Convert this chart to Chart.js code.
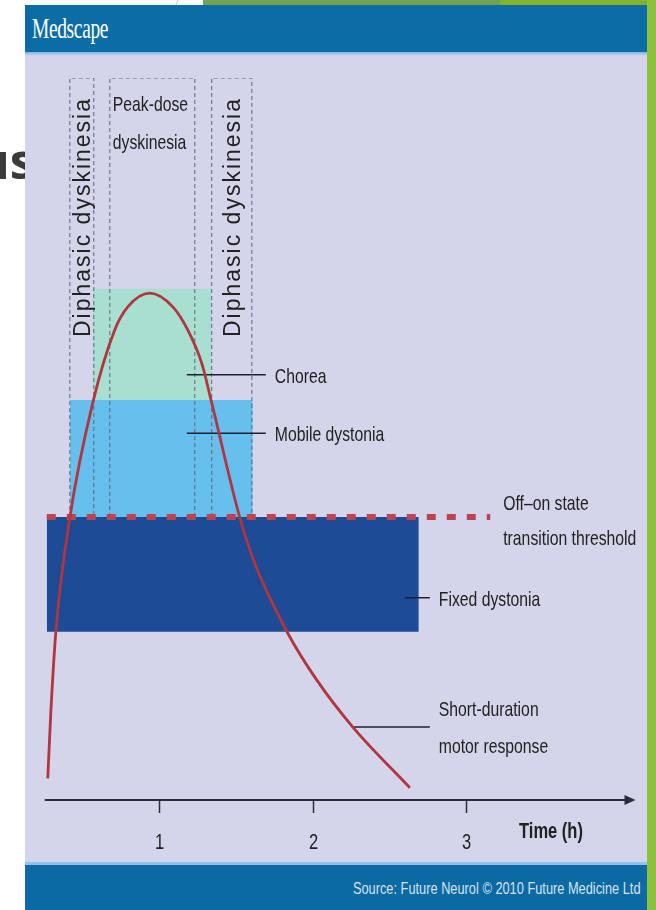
<!DOCTYPE html>
<html><head><meta charset="utf-8">
<script src="https://cdn.jsdelivr.net/npm/chart.js@4.4.1/dist/chart.umd.min.js"></script>
<style>
html,body{margin:0;padding:0;}
body{width:656px;height:910px;position:relative;overflow:hidden;background:#fff;font-family:'Liberation Sans',Arial,sans-serif;}
#greenTop1{position:absolute;left:203px;top:0;width:300px;height:6px;background:#72a055;}
#greenTop2{position:absolute;left:500px;top:0;width:156px;height:6px;background:#84b22e;}
#greenRight{position:absolute;left:647px;top:0;width:9px;height:910px;background:#8dc13d;}
#arc{position:absolute;left:176px;top:-14px;width:60px;height:40px;border-left:1.5px solid #c9c9c9;border-radius:50%;}
#slideTitle{position:absolute;left:-23px;top:126px;font:bold 50px 'Open Sans',sans-serif;color:#3a3a3a;}
#fig{position:absolute;left:25px;top:5px;width:622px;height:905px;background:#d4d5ea;overflow:hidden;}
#hdr{position:absolute;left:0;top:0;width:622px;height:47px;background:#0c6da6;}
#hdrLine{position:absolute;left:0;top:47px;width:622px;height:4px;background:linear-gradient(#7fb4dc,#cfd8ee);}
#logo{position:absolute;left:7px;top:7px;font:29px 'Liberation Serif',serif;color:#fff;transform:scaleX(0.67);transform-origin:0 0;white-space:nowrap;letter-spacing:-0.5px;}
#chartBox{position:absolute;left:0;top:50px;width:622px;height:805px;}
#ftrLine{position:absolute;left:0;top:857px;width:622px;height:3px;background:#8cc3e8;}
#ftr{position:absolute;left:0;top:860px;width:622px;height:45px;background:#0b6aa3;}
#src{position:absolute;right:6px;top:15px;font:16px 'Liberation Sans',Arial,sans-serif;color:#d6e3ef;transform:scaleX(0.8);transform-origin:100% 0;white-space:nowrap;}
</style></head>
<body>
<div id="arc"></div>
<div id="greenTop1"></div><div id="greenTop2"></div>
<div id="slideTitle">us</div>
<div id="fig">
  <div id="hdr"><div id="logo">Medscape</div></div>
  <div id="hdrLine"></div>
  <div id="chartBox"><canvas id="c" width="622" height="805"></canvas></div>
  <div id="ftrLine"></div>
  <div id="ftr"><div id="src">Source: Future Neurol © 2010 Future Medicine Ltd</div></div>
</div>
<div id="greenRight"></div>
<script>
// ---- data (time in hours, level in arbitrary response units 0-100) ----
const timeTicks = [1, 2, 3];
const axisTitle = 'Time (h)';

const curveTime  = [0.2765, 0.296, 0.329, 0.42, 0.569, 0.712, 0.797, 0.94, 1.09, 1.187, 1.278, 1.343, 1.526, 1.623, 1.838, 2.027, 2.261, 2.632];
const curveLevel = [3.0,    12.0,  23.3,  39.1, 55.0,  65.1,  68.3,  70.2, 68.3, 65.1,  60.5,  55.0,  39.1,  32.8,  23.1,  16.6,  10.1,  1.7];

const zoneNames  = ['Chorea', 'Mobile dystonia', 'Fixed dystonia'];
const zoneStart  = [0.569, 0.42, 0.27];
const zoneEnd    = [1.343, 1.61, 2.69];
const zoneTop    = [70.8, 55.4, 39.2];
const zoneBottom = [55.4, 39.2, 23.3];

const thresholdLabel = ['Off–on state', 'transition threshold'];
const thresholdLevel = 39.2;
const thresholdStart = 0.27;
const thresholdEnd   = 3.155;

const windowNames = [['Diphasic dyskinesia'], ['Peak-dose', 'dyskinesia'], ['Diphasic dyskinesia']];
const windowStart = [0.42, 0.68, 1.343];
const windowEnd   = [0.576, 1.233, 1.604];
const windowTop   = 100;

const curveLabel = ['Short-duration', 'motor response'];

// callout lines: start time, end time, level
const calloutX0    = [1.181, 1.181, 2.599, 2.261];
const calloutX1    = [1.695, 1.695, 2.762, 2.762];
const calloutLevel = [58.9, 50.8, 28.0, 10.1];

// ---- styles / layout ----
const zoneColors = ['#a8dfd1', '#66bfec', '#1d4b95'];
const TXT = '#222222';
const NARROW = 0.75;

function narrowText(ctx, text, x, y, size, align, weight) {
  ctx.save();
  ctx.translate(x, y);
  ctx.scale(NARROW, 1);
  ctx.font = (weight || 'normal') + ' ' + size + "px 'Liberation Sans', Arial, sans-serif";
  ctx.fillStyle = TXT;
  ctx.textAlign = align || 'left';
  ctx.textBaseline = 'middle';
  ctx.fillText(text, 0, 0);
  ctx.restore();
}

const datasets = [];
datasets.push({
  label: curveLabel.join(' '),
  data: curveTime.map((t, i) => ({x: t, y: curveLevel[i]})),
  borderColor: '#b0363f', borderWidth: 2.8, pointRadius: 0,
  cubicInterpolationMode: 'monotone', fill: false, order: 0
});
calloutLevel.forEach((lv, i) => datasets.push({
  label: 'callout' + i,
  data: [{x: calloutX0[i], y: lv}, {x: calloutX1[i], y: lv}],
  borderColor: '#1e2030', borderWidth: 1.5, pointRadius: 0, fill: false, order: 1
}));
datasets.push({
  label: thresholdLabel.join(' '),
  data: [{x: thresholdStart, y: thresholdLevel}, {x: thresholdEnd, y: thresholdLevel}],
  borderColor: '#b8454f', borderWidth: 6, borderDash: [9, 11], borderCapStyle: 'butt',
  pointRadius: 0, fill: false, order: 2
});
windowNames.forEach((n, i) => datasets.push({
  label: n.join(' '),
  data: [{x: windowStart[i], y: thresholdLevel}, {x: windowStart[i], y: windowTop},
         {x: windowEnd[i], y: windowTop}, {x: windowEnd[i], y: thresholdLevel}],
  borderColor: '#5f6475', borderWidth: 1, borderDash: [4, 3], pointRadius: 0,
  tension: 0, fill: false, order: 3
}));
zoneNames.forEach((n, i) => datasets.push({
  label: n,
  data: [{x: zoneStart[i], y: zoneTop[i]}, {x: zoneEnd[i], y: zoneTop[i]}],
  borderColor: 'rgba(0,0,0,0)', borderWidth: 0, backgroundColor: zoneColors[i],
  pointRadius: 0, fill: {value: zoneBottom[i]}, order: 4 + i
}));

const overlay = {
  id: 'overlay',
  afterDatasetsDraw(chart) {
    const ctx = chart.ctx, xs = chart.scales.x, ys = chart.scales.y, ca = chart.chartArea;
    const y0 = ys.getPixelForValue(0);
    // axis line with arrow
    ctx.save();
    ctx.strokeStyle = '#2b2d3a'; ctx.fillStyle = '#2b2d3a'; ctx.lineWidth = 2;
    ctx.beginPath(); ctx.moveTo(ca.left + 1, y0); ctx.lineTo(ca.right - 8, y0); ctx.stroke();
    ctx.beginPath(); ctx.moveTo(ca.right, y0); ctx.lineTo(ca.right - 11, y0 - 5); ctx.lineTo(ca.right - 11, y0 + 5); ctx.closePath(); ctx.fill();
    ctx.lineWidth = 1.5;
    timeTicks.forEach(t => {
      const px = Math.round(xs.getPixelForValue(t)) + 0.5;
      ctx.beginPath(); ctx.moveTo(px, y0); ctx.lineTo(px, y0 + 13); ctx.stroke();
      narrowText(ctx, String(t), px, y0 + 43, 22, 'center');
    });
    ctx.restore();
    narrowText(ctx, axisTitle, xs.getPixelForValue(3.55), y0 + 32, 22, 'center', 'bold');

    // window labels
    windowNames.forEach((n, i) => {
      const l = xs.getPixelForValue(windowStart[i]), r = xs.getPixelForValue(windowEnd[i]);
      if (n.length === 1) {
        ctx.save();
        ctx.translate((l + r) / 2 + 1.5, ca.top + 139);
        ctx.rotate(-Math.PI / 2);
        ctx.font = "23px 'Liberation Sans', Arial, sans-serif";
        ctx.letterSpacing = '2px';
        ctx.fillStyle = TXT; ctx.textAlign = 'center'; ctx.textBaseline = 'middle';
        ctx.fillText(n[0], 0, 0);
        ctx.restore();
      } else {
        n.forEach((s, k) => narrowText(ctx, s, l + 3, ca.top + 27 + k * 38, 21));
      }
    });

    // zone / curve labels at callout ends
    const labelSets = [[zoneNames[0]], [zoneNames[1]], [zoneNames[2]], curveLabel];
    labelSets.forEach((lines, i) => {
      const x = xs.getPixelForValue(calloutX1[i]) + 9;
      const yc = ys.getPixelForValue(calloutLevel[i]);
      const h = 37;
      lines.forEach((s, k) => narrowText(ctx, s, x, yc + (k - (lines.length - 1) / 2) * h + 2, 21));
    });
    // threshold label
    const tx = xs.getPixelForValue(thresholdEnd) + 13, ty = ys.getPixelForValue(thresholdLevel);
    thresholdLabel.forEach((s, k) => narrowText(ctx, s, tx, ty - 13 + k * 35, 21));
  }
};

new Chart(document.getElementById('c'), {
  type: 'line',
  data: {datasets},
  options: {
    responsive: false, animation: false,
    layout: {padding: {left: 18.7, right: 11.5, top: 23, bottom: 60}},
    scales: {
      x: {type: 'linear', min: 0.25, max: 4.1, display: false},
      y: {type: 'linear', min: 0, max: 100, display: false}
    },
    plugins: {legend: {display: false}, tooltip: {enabled: false}}
  },
  plugins: [overlay]
});
</script>
</body></html>
